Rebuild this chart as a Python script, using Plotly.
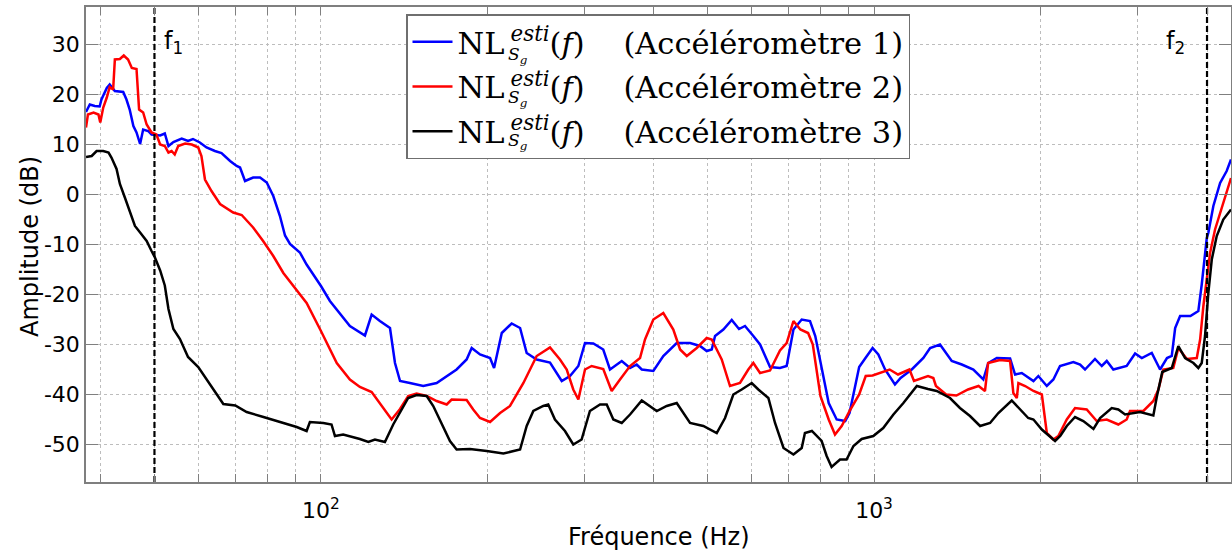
import numpy as np
import plotly.graph_objects as go

# ---------------- data ----------------
f_acc1 = [37.6, 38.2, 39.0, 39.8, 40.1, 41.0, 41.5, 42.4, 43.9, 44.5, 45.1, 45.8, 46.4, 47.1, 47.7,
          48.7, 49.4, 51.2, 52.2, 53.0, 54.1, 56.0, 57.5, 58.7, 60.4, 62.1, 64.3, 66.1, 68.5, 70.4,
          71.4, 72.9, 75.4, 77.6, 79.8, 82.0, 84.3, 86.1, 87.9, 91.6, 94.2, 100, 103.8, 112.8, 120.1,
          123.5, 127.8, 133.3, 136.1, 139.0, 144.8, 153.1, 161.9, 168.8, 175.9, 183.4, 187.3, 193.9,
          202.2, 205.6, 212.3, 221.2, 229.1, 235.5, 245.5, 259.5, 272.5, 282, 292, 300.2, 310.8,
          323.9, 333.1, 349.8, 362.1, 372.3, 380.2, 399, 415.9, 439.8, 464.9, 484.6, 498.3, 508.8,
          515.9, 534, 553, 570, 584.4, 605, 622.2, 648.6, 676, 695, 715, 740, 766, 783, 804, 828,
          856, 887, 903, 924, 940, 965, 994, 1018, 1047, 1091, 1117, 1170, 1228, 1263, 1316, 1382,
          1441, 1512, 1576, 1609, 1667, 1762, 1799, 1850, 1942, 1982, 2053, 2110, 2169, 2293, 2358,
          2407, 2509, 2581, 2635, 2708, 2863, 2965, 3049, 3178, 3245, 3290, 3386, 3454, 3503, 3576,
          3733, 3858, 3913, 3996, 4022, 4107, 4224, 4341, 4420]
nl_acc1 = [16.5, 18.0, 17.7, 17.6, 19.0, 21.3, 22.0, 20.7, 20.5, 19.0, 17.0, 13.7, 12.4, 10.1, 13.0,
           12.7, 12.0, 11.8, 12.2, 9.7, 10.5, 11.2, 10.7, 11.1, 10.4, 9.4, 8.7, 8.3, 6.7, 5.7,
           5.4, 2.7, 3.4, 3.4, 2.4, -0.3, -4.3, -8.2, -9.9, -11.6, -14.0, -18.3, -21.3, -26.3, -28.2,
           -24.0, -25.3, -26.7, -33.7, -37.3, -37.7, -38.3, -37.7, -36.3, -35.0, -33.0, -30.7, -32.0,
           -32.7, -34.7, -27.7, -25.8, -26.7, -31.7, -33.0, -33.6, -37.3, -36.3, -34.3, -29.7, -29.8,
           -31.0, -35.0, -33.3, -34.7, -34.0, -35.0, -35.3, -32.3, -29.7, -29.7, -30.3, -31.3, -31.0,
           -28.3, -27.0, -25.1, -26.9, -26.3, -28.3, -30.0, -34.5, -34.7, -34.3, -27.0, -25.0, -25.3,
           -28.3, -35.0, -41.7, -45.0, -45.3, -43.7, -38.3, -34.5, -32.7, -30.7, -32.0, -35.0, -38.0,
           -36.7, -35.0, -32.7, -30.7, -30.0, -33.3, -34.0, -35.0, -37.0, -33.7, -32.7, -32.8, -36.0,
           -35.7, -37.3, -36.3, -38.3, -37.0, -34.3, -33.5, -34.0, -35.0, -32.9, -34.3, -33.3, -35.0,
           -34.3, -31.8, -32.7, -31.7, -33.7, -35.0, -32.7, -32.3, -26.7, -24.3, -24.3, -23.3, -18.0,
           -8.7, -7.7, -2.3, 2.3, 4.7, 7.0]

f_acc2 = [37.6, 37.9, 38.8, 39.6, 39.9, 40.4, 41.0, 41.5, 42.1, 42.4, 43.3, 44.0, 44.8, 45.5, 46.4,
          46.9, 47.7, 48.4, 49.4, 50.4, 51.2, 52.2, 53.0, 53.7, 54.4, 55.2, 56.8, 58.4, 60.0, 60.8,
          61.7, 63.4, 65.7, 69.4, 71.9, 75.4, 78.6, 82.0, 85.5, 89.1, 94.2, 100, 106.8, 112.8, 117.6,
          123.5, 127.8, 134.2, 139, 143.8, 148.9, 155.3, 161.9, 168.8, 172.3, 183.4, 188.5, 193.9,
          202.2, 210.8, 219.7, 232.3, 245.5, 259.5, 270.5, 278.2, 285.9, 292, 300.2, 308.6, 323.9,
          335.5, 347.3, 362.1, 377.5, 385.4, 399, 415.9, 433.6, 446, 458.6, 478, 498.3, 508.8, 530.4,
          549, 572.3, 592.5, 605, 622.2, 648.6, 676, 695, 715, 736, 760, 775, 800, 828, 850, 874,
          903, 940, 966, 994, 1036, 1067, 1105, 1159, 1181, 1252, 1280, 1294, 1350, 1409, 1479, 1545,
          1587, 1608, 1689, 1762, 1786, 1812, 1824, 1876, 1942, 2011, 2053, 2110, 2154, 2231, 2309,
          2424, 2527, 2635, 2765, 2863, 2903, 3069, 3199, 3267, 3335, 3476, 3550, 3678, 3833, 3887,
          3940, 3996, 4051, 4136, 4224, 4343, 4420]
nl_acc2 = [13.4, 16.0, 16.4, 16.0, 14.4, 17.4, 19.4, 21.5, 21.0, 27.0, 27.1, 27.8, 27.0, 25.3, 25.1,
           17.0, 16.4, 14.0, 12.4, 12.0, 10.0, 9.7, 8.4, 8.7, 8.0, 9.7, 10.2, 10.0, 9.4, 7.7,
           3.0, 0.7, -1.9, -3.6, -4.1, -6.6, -9.3, -12.3, -15.7, -18.3, -21.7, -27.3, -33.7, -37.0, -38.5,
           -39.5, -41.7, -45.0, -42.9, -40.3, -39.8, -40.3, -41.3, -42.0, -41.0, -41.1, -43.0, -44.7,
           -45.5, -43.7, -42.3, -37.7, -32.3, -30.6, -33.0, -35.0, -39.0, -41.0, -35.0, -34.3, -34.9,
           -39.3, -37.0, -34.3, -32.7, -29.0, -25.0, -23.7, -27.0, -31.0, -32.3, -30.7, -28.7, -29.0, -33.0,
           -38.3, -37.7, -35.0, -33.7, -35.7, -35.2, -31.2, -29.7, -25.3, -27.0, -27.7, -30.0, -40.3, -45.0, -48.0, -46.3,
           -43.3, -40.0, -36.3, -36.2, -35.5, -35.0, -36.0, -35.0, -37.3, -36.3, -36.7, -38.3, -40.0, -40.2, -39.0, -38.3,
           -39.3, -33.7, -33.1, -33.3, -39.7, -40.7, -37.7, -38.3, -39.3, -40.0, -47.7, -49.0, -48.3, -45.0, -42.7,
           -43.0, -45.3, -45.0, -46.0, -45.0, -43.3, -43.3, -41.3, -39.0, -35.0, -34.7, -30.7, -32.9, -32.7, -29.0,
           -22.3, -16.5, -11.7, -7.0, -3.7, 1.0, 3.3]

f_acc3 = [37.6, 38.5, 39.3, 40.4, 41.3, 41.8, 42.7, 43.3, 44.2, 45.2, 46.1, 47.1, 48.4, 49.4, 50.1,
          51.2, 52.2, 53.0, 54.1, 55.6, 57.5, 60.0, 62.6, 64.8, 66.6, 70.0, 73.4, 78.7, 84.3, 90.4,
          94.2, 95.5, 101, 104.5, 106, 109.7, 117.6, 121.8, 125.2, 130.5, 135.1, 139.9, 143.8, 148.9,
          155.3, 159.6, 165.3, 171.1, 175.9, 185.9, 199.4, 213.7, 229.1, 235.5, 242.1, 252.3, 257.6,
          264.9, 276.2, 285.9, 296, 306.4, 319.6, 328.6, 337.8, 349.8, 362.1, 380.2, 404.7, 421.9,
          439.8, 464.9, 491.3, 519.5, 537.8, 556.6, 576.4, 601, 617.8, 644.1, 662.2, 686, 715, 740,
          750, 772, 804, 821, 838, 868, 892, 918, 950, 997, 1039, 1084, 1130, 1195, 1252, 1298, 1372,
          1430, 1491, 1555, 1621, 1678, 1774, 1837, 1900, 1942, 2011, 2125, 2171, 2231, 2309, 2390,
          2493, 2563, 2690, 2765, 2844, 3027, 3199, 3245, 3320, 3454, 3550, 3651, 3780, 3858, 3913,
          3967, 4022, 4080, 4165, 4280, 4420]
nl_acc3 = [7.5, 7.7, 8.7, 8.7, 8.4, 7.4, 5.1, 2.1, -0.6, -3.6, -6.3, -7.6, -9.3, -11.3, -12.6,
           -15.2, -18.2, -22.9, -26.9, -28.9, -32.5, -34.5, -37.5, -40.2, -41.9, -42.2, -43.5, -44.5, -45.5, -46.5,
           -47.3, -45.5, -45.7, -46.0, -48.3, -48.0, -48.9, -49.5, -49.0, -49.5, -46.0, -43.0, -40.7, -40.1,
           -40.3, -42.3, -45.7, -49.3, -51.0, -50.9, -51.3, -51.8, -51.0, -46.3, -43.3, -42.3, -42.0,
           -45.0, -47.3, -50.0, -49.0, -43.3, -42.0, -42.0, -45.0, -45.7, -44.0, -41.2, -43.3, -42.3,
           -41.7, -45.7, -46.3, -47.7, -44.7, -40.0, -39.0, -37.7, -39.0, -40.7, -45.7, -50.7, -52.0, -50.7,
           -47.7, -47.3, -49.3, -52.3, -54.5, -53.0, -53.0, -50.3, -48.9, -48.3, -46.7, -44.0, -41.7, -38.3, -38.9, -39.3, -40.7,
           -42.7, -44.3, -46.3, -45.7, -43.7, -41.2, -43.0, -44.7, -45.0, -47.0, -49.3, -48.3, -46.3, -44.5, -45.3,
           -46.9, -44.7, -42.7, -43.0, -44.0, -43.5, -44.2, -40.5, -35.5, -34.7, -30.3, -32.7, -33.7, -34.7, -33.7,
           -28.3, -19.7, -13.0, -8.3, -5.0, -3.0]

series_names = ["Accéléromètre 1", "Accéléromètre 2", "Accéléromètre 3"]
series_colors = ["#0000ff", "#ff0000", "#000000"]

f1 = 50
f2 = 4000
x_min, x_max = 37.6, 4420
y_min, y_max = -57.5, 37.5
y_tick_vals = [-50, -40, -30, -20, -10, 0, 10, 20, 30]
y_tick_text = [str(v) for v in y_tick_vals]
x_tick_vals = [40, 50, 60, 70, 80, 90, 100, 200, 300, 400, 500, 600, 700, 800, 900,
               1000, 2000, 3000, 4000]
x_tick_text = ["10<sup>2</sup>" if v == 100 else ("10<sup>3</sup>" if v == 1000 else "")
               for v in x_tick_vals]

# ---------------- figure ----------------
W, H = 1232, 553
ML, MR, MT, MB = 86, 1, 7, 71
PW, PH = W - ML - MR, H - MT - MB


def px_x(px):  # pixel -> paper x
    return (px - ML) / PW


def px_y(py):  # pixel -> paper y
    return (H - MB - py) / PH


fig = go.Figure()
NBSP = "\u00a0"
for i, (fx, ny, nm, col) in enumerate(zip([f_acc1, f_acc2, f_acc3], [nl_acc1, nl_acc2, nl_acc3],
                                          series_names, series_colors)):
    label = ("NL\u2009<sup><i>esti</i></sup>(<i>f</i>)" + NBSP * 4 + "(" + nm + ")")
    fig.add_trace(go.Scatter(x=fx, y=ny, mode="lines", name=label, legendgroup="g%d" % i,
                             line=dict(color=col, width=2.5)))

for fv in (f1, f2):
    fig.add_trace(go.Scatter(x=[fv, fv], y=[y_min, y_max], mode="lines", showlegend=False,
                             line=dict(color="black", width=2.2, dash="6px,3px"),
                             hoverinfo="skip"))

axis_grey = "#7f7f7f"
grid_grey = "#bdbdbd"
fig.update_layout(
    width=W, height=H,
    margin=dict(l=ML, r=MR, t=MT, b=MB),
    paper_bgcolor="white", plot_bgcolor="white",
    font=dict(family="DejaVu Sans", size=22, color="black"),
    xaxis=dict(type="log", range=[np.log10(x_min), np.log10(x_max)],
               tickvals=x_tick_vals, ticktext=x_tick_text, automargin=False,
               ticks="inside", ticklen=8, tickcolor=axis_grey, tickwidth=1,
               ticklabelstandoff=8,
               showline=True, linecolor=axis_grey, linewidth=1.5, mirror="ticks",
               showgrid=True, gridcolor=grid_grey, griddash="dot", gridwidth=1,
               zeroline=False,
               tickfont=dict(family="DejaVu Sans", size=22, color="black")),
    yaxis=dict(range=[y_min, y_max], tickvals=y_tick_vals, ticktext=y_tick_text,
               automargin=False,
               ticks="inside", ticklen=12, tickcolor=axis_grey, tickwidth=1,
               showline=True, linecolor=axis_grey, linewidth=1.5, mirror="ticks",
               showgrid=True, gridcolor=grid_grey, griddash="dot", gridwidth=1,
               zeroline=False,
               tickfont=dict(family="DejaVu Sans", size=22, color="black")),
    legend=dict(x=px_x(406), y=px_y(14), xanchor="left", yanchor="top",
                bgcolor="white", bordercolor="#6f6f6f", borderwidth=1.5,
                font=dict(family="DejaVu Serif", size=30.5, color="black"),
                tracegroupgap=2, itemwidth=40),
    showlegend=True,
)

# axis titles
fig.add_annotation(x=px_x(659), y=px_y(537), xref="paper", yref="paper",
                   text="Fréquence (Hz)", showarrow=False, xanchor="center", yanchor="middle",
                   font=dict(family="DejaVu Sans", size=24, color="black"))
fig.add_annotation(x=px_x(30), y=px_y(247), xref="paper", yref="paper",
                   text="Amplitude (dB)", showarrow=False, xanchor="center", yanchor="middle",
                   textangle=-90, font=dict(family="DejaVu Sans", size=24, color="black"))

# subscripts of the legend labels (stacked under the superscript)
for py in (55, 98, 141):
    fig.add_annotation(x=px_x(506), y=px_y(py), xref="paper", yref="paper",
                       text="<i>S</i><sub><i>g</i></sub>", showarrow=False,
                       xanchor="left", yanchor="middle",
                       font=dict(family="DejaVu Serif", size=17, color="black"))

fig.add_annotation(x=np.log10(f1), y=y_max, xref="x", yref="y", text="f<sub>1</sub>",
                   showarrow=False, xanchor="left", yanchor="top", xshift=8, yshift=-18,
                   font=dict(family="DejaVu Sans", size=24, color="black"))
fig.add_annotation(x=np.log10(f2), y=y_max, xref="x", yref="y", text="f<sub>2</sub>",
                   showarrow=False, xanchor="right", yanchor="top", xshift=-20, yshift=-18,
                   font=dict(family="DejaVu Sans", size=24, color="black"))

fig.write_html("out.html", config={"displayModeBar": False},
               post_script="document.body.style.margin='0px';"
                           "document.body.style.overflow='hidden';")
